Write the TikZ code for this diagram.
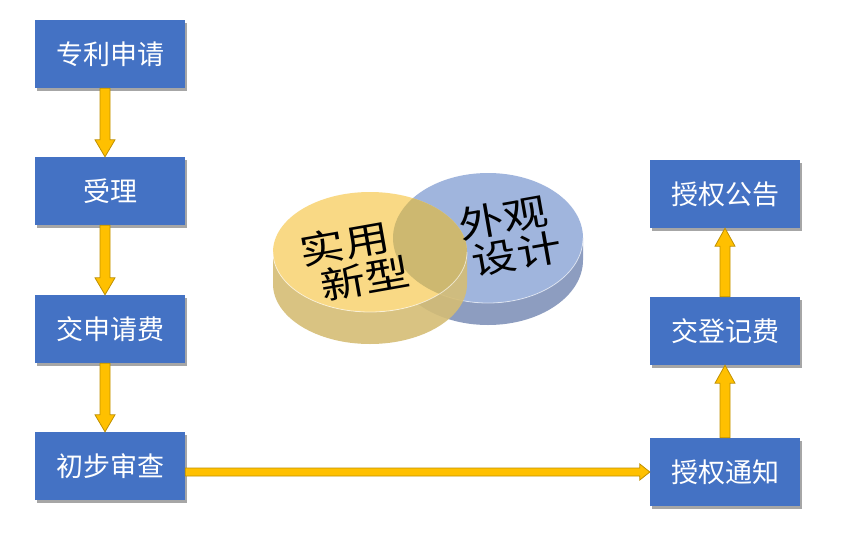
\documentclass[tikz,border=0pt]{standalone}
\usepackage{fontspec}
\newfontfamily\cjk{Noto Sans CJK SC}
\usetikzlibrary{calc,shadows}
\definecolor{boxblue}{HTML}{4472C4}
\definecolor{arrfill}{HTML}{FFC000}
\definecolor{arrline}{HTML}{BF9000}
\definecolor{ytop}{HTML}{F9D985}
\definecolor{yside}{HTML}{D5BD75}
\definecolor{btop}{HTML}{A0B5DD}
\definecolor{bside}{HTML}{8D9DC0}
\definecolor{ovtop}{HTML}{CDB870}
\newcommand{\blockarrow}[5]{%
  \coordinate (ba-s) at #4;
  \coordinate (ba-e) at #5;
  \coordinate (ba-c) at ($(ba-e)!#3!(ba-s)$);
  \filldraw[arrowbody] ($(ba-s)!#1!90:(ba-e)$) -- ($(ba-c)!#1!90:(ba-e)$) --
    ($(ba-c)!#2!90:(ba-e)$) -- (ba-e) -- ($(ba-c)!#2!-90:(ba-e)$) --
    ($(ba-c)!#1!-90:(ba-e)$) -- ($(ba-s)!#1!-90:(ba-e)$) -- cycle;
}
\tikzset{
  box/.style={fill=boxblue, minimum width=150pt, minimum height=68pt, text=white,
    font=\cjk\fontsize{27}{30}\selectfont, inner sep=0pt,
    drop shadow={shadow xshift=1.5pt, shadow yshift=-2.5pt, opacity=0.35, fill=black}},
  arrowbody/.style={fill=arrfill, draw=arrline, line width=0.8pt, line join=miter},
  disctext/.style={text=black, font=\cjk\fontsize{45}{46}\selectfont, inner sep=0pt,
    align=center, rotate=10, yscale=0.82}
}
\begin{document}
\begin{tikzpicture}[x=1pt,y=-1pt]
\fill[white] (0,0) rectangle (861,549);
\useasboundingbox (0,0) rectangle (861,549);

% boxes
\node[box] (b1) at (110,54) {专利申请};
\node[box] (b2) at (110,191) {受理};
\node[box] (b3) at (110,329) {交申请费};
\node[box] (b4) at (110,466) {初步审查};
\node[box] (r1) at (725,194) {授权公告};
\node[box] (r2) at (725,331) {交登记费};
\node[box] (r3) at (725,472) {授权通知};

% arrows
\blockarrow{5pt}{10pt}{17pt}{([xshift=-5pt]b1.south)}{([xshift=-5pt]b2.north)}
\blockarrow{5pt}{10pt}{17pt}{([xshift=-5pt]b2.south)}{([xshift=-5pt]b3.north)}
\blockarrow{5pt}{10pt}{17pt}{([xshift=-5pt]b3.south)}{([xshift=-5pt]b4.north)}
\blockarrow{4pt}{8pt}{10pt}{(b4.east |- r3.west)}{(r3.west)}
\blockarrow{5pt}{10pt}{18pt}{(r3.north)}{(r2.south)}
\blockarrow{5pt}{10pt}{18pt}{(r2.north)}{(r1.south)}

% blue disc (behind)
\fill[bside] (393,238) -- (393,260) arc[start angle=180,end angle=360,x radius=95pt,y radius=65pt]
  -- (583,238) arc[start angle=0,end angle=-180,x radius=95pt,y radius=65pt] -- cycle;
\fill[btop] (488,238) ellipse [x radius=95pt, y radius=65pt];
\draw[white, opacity=0.6, line width=0.8pt] (393,238) arc[start angle=180,end angle=360,x radius=95pt,y radius=65pt];

% yellow disc (front, translucent)
\fill[yside, opacity=0.9] (273,252) -- (273,284) arc[start angle=180,end angle=360,x radius=97pt,y radius=60pt]
  -- (467,252) arc[start angle=0,end angle=-180,x radius=97pt,y radius=60pt] -- cycle;
\fill[ytop] (370,252) ellipse [x radius=97pt, y radius=60pt];
\begin{scope}
  \clip (488,238) ellipse [x radius=95pt, y radius=65pt];
  \fill[ovtop] (370,252) ellipse [x radius=97pt, y radius=60pt];
\end{scope}
\draw[white, opacity=0.6, line width=0.8pt] (273,252) arc[start angle=180,end angle=360,x radius=97pt,y radius=60pt];

% disc labels
\node[disctext] (t1) at (355,261) {实用\hspace*{14pt}\\\hspace*{14pt}新型};
\node[disctext] (t2) at (510,236) {外观\hspace*{7pt}\\\hspace*{7pt}设计};
\end{tikzpicture}
\end{document}
